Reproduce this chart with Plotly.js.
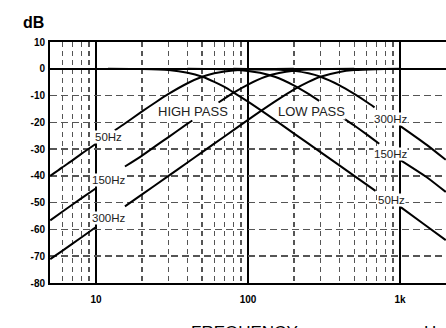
<!DOCTYPE html>
<html>
<head>
<meta charset="utf-8">
<script src="https://cdn.plot.ly/plotly-3.0.1.min.js"></script>
<style>html,body{margin:0;padding:0;background:#fff}#chart{width:446px;height:328px}</style>
</head>
<body>
<div id="chart"></div>
<script>
// ---- data ----
// High-pass filters (null = gap where a label sits)
const hp50Freq = [5, 6, 7, 8, 10, null, 13.3, 15, 20, 25, 30, 40, 50, 60, 70, 80, 100, 150, 200];
const hp50Db   = [-40.0, -36.8, -34.2, -31.8, -28.0, null, -23.0, -21.0, -16.0, -12.3, -9.4, -5.4, -3.0, -1.7, -1.0, -0.6, -0.3, -0.05, 0];

const hp150Freq = [5, 6, 8, 10, null, 15.5, 20, 25, 30, 40, 43, null, 64, 80, 100, 130, 160, 200, 250, 350, 500];
const hp150Db   = [-56.6, -53.4, -48.4, -44.6, null, -36.5, -32.5, -28.6, -25.5, -20.5, -19.3, null, -12.6, -9.0, -5.9, -3.0, -1.6, -0.7, -0.3, -0.08, 0];

const hp300Freq = [5, 6, 8, 10, null, 15.5, 20, 30, 40, 50, 70, 100, 150, 200, 250, 300, 400, 500, 700, 1000];
const hp300Db   = [-71.1, -68.0, -63.0, -59.1, null, -51.4, -47.0, -40.0, -35.0, -31.1, -25.3, -19.1, -12.3, -7.8, -4.9, -3.0, -1.2, -0.5, -0.14, 0];

// Low-pass filters
const lp50Freq = [12, 20, 30, 40, 50, 60, 70, 80, 100, 150, 200, 300, 500, 690, null, 1000, 1500, 2000];
const lp50Db   = [0, -0.1, -0.5, -1.5, -3.0, -4.9, -6.8, -8.8, -12.3, -19.1, -24.1, -31.1, -40.0, -45.6, null, -51.5, -58.8, -64.0];

const lp150Freq = [40, 60, 80, 100, 120, 150, 200, 250, 294, null, 398, 500, 600, 730, null, 1000, 1500, 2000];
const lp150Db   = [0, -0.1, -0.34, -0.8, -1.5, -3.0, -6.2, -9.4, -12.0, null, -17.4, -21.2, -24.4, -28.0, null, -34.0, -40.5, -46.0];

const lp300Freq = [80, 100, 150, 200, 250, 300, 400, 500, 600, 680, null, 1000, 1500, 2000];
const lp300Db   = [0, -0.05, -0.26, -0.78, -1.7, -3.0, -6.2, -9.4, -12.3, -14.4, null, -21.3, -28.4, -34.0];

// axis ticks
const xTickVals = [10, 100, 1000];
const xTickText = ['10', '100', '1k'];
const xMinorVals = [6, 7, 8, 9, 20, 30, 40, 50, 60, 70, 80, 90, 200, 300, 400, 500, 600, 700, 800, 900];
const yTickVals = [10, 0, -10, -20, -30, -40, -50, -60, -70, -80];
const yTickText = ['10', '0', '-10', '-20', '-30', '-40', '-50', '-60', '-70', '-80'];

// text labels
const hpLabels = ['50Hz', '150Hz', '300Hz'];
const lpLabels = ['300Hz', '150Hz', '50Hz'];
const groupLabels = ['HIGH PASS', 'LOW PASS'];
const yTitle = 'dB';
const xTitle = 'FREQUENCY';
const xUnit = 'Hz';

// ---- chart ----
const FONT = 'Liberation Sans, Arial, sans-serif';
const lineStyle = {color: '#000', width: 2, shape: 'spline', smoothing: 0.6};
const series = [[hp50Freq, hp50Db], [hp150Freq, hp150Db], [hp300Freq, hp300Db],
                [lp50Freq, lp50Db], [lp150Freq, lp150Db], [lp300Freq, lp300Db]];
const traces = series.map(s => ({
  x: s[0], y: s[1], type: 'scatter', mode: 'lines', line: lineStyle,
  connectgaps: false, hoverinfo: 'skip'
}));

const lg = v => Math.log10(v);
const lblFont = {family: FONT, size: 11.5, color: '#222'};
const annotations = [
  {x: lg(12.1), y: -25.5, text: hpLabels[0]},
  {x: lg(12.1), y: -41.5, text: hpLabels[1]},
  {x: lg(12.1), y: -55.7, text: hpLabels[2]},
  {x: lg(860), y: -18.8, text: lpLabels[0]},
  {x: lg(860), y: -31.8, text: lpLabels[1]},
  {x: lg(873), y: -49.0, text: lpLabels[2]},
].map(a => Object.assign(a, {xref: 'x', yref: 'y', showarrow: false, font: lblFont,
        bgcolor: '#fff', borderpad: 0, xanchor: 'center', yanchor: 'middle'}));

annotations.push(
  {x: lg(43.5), y: -15.8, text: groupLabels[0]},
  {x: lg(262), y: -15.8, text: groupLabels[1]}
);
annotations.forEach(a => { if (!a.xref) Object.assign(a, {xref: 'x', yref: 'y', showarrow: false,
  font: {family: FONT, size: 13, color: '#222'}, bgcolor: '#fff', borderpad: 0,
  xanchor: 'center', yanchor: 'middle'}); });

annotations.push(
  {xref: 'paper', yref: 'paper', x: -0.0735, y: 1.079, xanchor: 'left', yanchor: 'middle',
   text: yTitle, showarrow: false, font: {family: FONT, size: 16, color: '#000', weight: 'bold'}},
  {xref: 'paper', yref: 'paper', x: 0.4924, y: -0.207, xanchor: 'center', yanchor: 'middle',
   text: xTitle, showarrow: false, font: {family: FONT, size: 17, color: '#000'}},
  {xref: 'paper', yref: 'paper', x: 0.971, y: -0.207, xanchor: 'center', yanchor: 'middle',
   text: xUnit, showarrow: false, font: {family: FONT, size: 17, color: '#000'}}
);

const layout = {
  width: 446, height: 328,
  margin: {l: 50, r: 0, t: 42, b: 45},
  paper_bgcolor: '#fff', plot_bgcolor: '#fff',
  showlegend: false, hovermode: false,
  font: {family: FONT, color: '#000'},
  xaxis: {
    type: 'log', range: [0.6974, 3.3026],
    tickmode: 'array', tickvals: xTickVals, ticktext: xTickText,
    tickfont: {family: FONT, size: 10, color: '#000', weight: 'bold'},
    ticks: '', ticklabelstandoff: 6,
    showgrid: true, gridcolor: '#000', gridwidth: 2,
    minor: {tickmode: 'array', tickvals: xMinorVals, showgrid: true, gridcolor: '#555',
            gridwidth: 1.5, griddash: '5px,4px', ticks: ''},
    showline: true, linecolor: '#000', linewidth: 2, mirror: true, zeroline: false
  },
  yaxis: {
    range: [-80, 10],
    tickmode: 'array', tickvals: yTickVals, ticktext: yTickText,
    tickfont: {family: FONT, size: 10, color: '#000', weight: 'bold'},
    ticks: '', ticklabelstandoff: 1,
    showgrid: true, gridcolor: '#555', gridwidth: 1.5, griddash: '7px,4px',
    zeroline: true, zerolinecolor: '#000', zerolinewidth: 2,
    showline: true, linecolor: '#000', linewidth: 2, mirror: false
  },
  annotations: annotations
};

Plotly.newPlot('chart', traces, layout, {displayModeBar: false, staticPlot: true});
</script>
</body>
</html>
